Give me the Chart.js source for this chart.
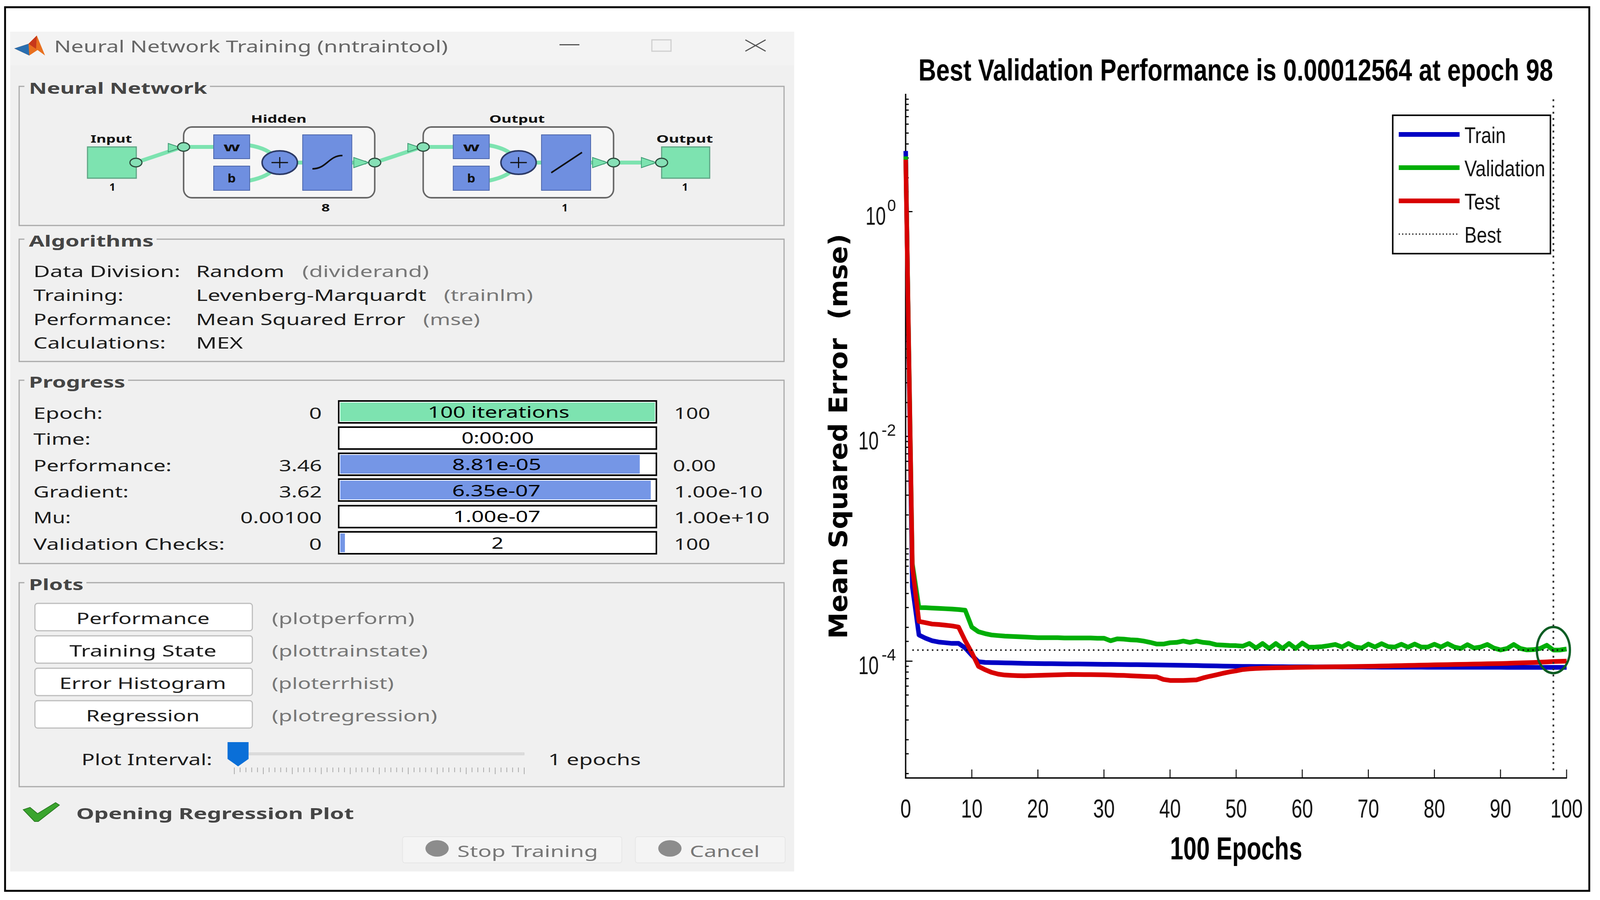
<!DOCTYPE html>
<html>
<head>
<meta charset="utf-8">
<title>Neural Network Training</title>
<script src="https://cdn.jsdelivr.net/npm/chart.js@4"></script>
<style>
html, body { margin: 0; padding: 0; background: #fff; overflow: hidden; }
#page { position: relative; width: 4261px; height: 2303px; overflow: hidden; background: #fff; transform-origin: 0 0; }
#frame { position: absolute; left: 11px; top: 16px; width: 4214px; height: 2256px; border: 5px solid #000; }
#gui { position: absolute; left: 0; top: 0; }
#perf { position: absolute; left: 2150px; top: 90px; }
.t { position: absolute; white-space: pre; transform-origin: 0 50%; font-family: "Noto Sans", sans-serif; }
</style>
</head>
<body>
<div id="page">
  <div id="frame"></div>
  <svg id="gui" width="4261" height="2303" xmlns="http://www.w3.org/2000/svg"></svg>
  <canvas id="perf" width="2070" height="2170"></canvas>
</div>
<script>
// performance curves, one value per epoch
const epochs = [0,1,2,3,4,5,6,7,8,9,10,11,12,13,14,15,16,17,18,19,20,21,22,23,24,25,26,27,28,29,30,31,32,33,34,35,36,37,38,39,40,41,42,43,44,45,46,47,48,49,50,51,52,53,54,55,56,57,58,59,60,61,62,63,64,65,66,67,68,69,70,71,72,73,74,75,76,77,78,79,80,81,82,83,84,85,86,87,88,89,90,91,92,93,94,95,96,97,98,99,100];
const train = [3.46,4.6e-4,1.71e-4,1.60e-4,1.52e-4,1.48e-4,1.46e-4,1.44e-4,1.44e-4,1.31e-4,
  1.13e-4,9.89e-5,9.76e-5,9.72e-5,9.69e-5,9.66e-5,9.63e-5,9.60e-5,9.57e-5,9.55e-5,
  9.53e-5,9.51e-5,9.50e-5,9.48e-5,9.47e-5,9.45e-5,9.44e-5,9.42e-5,9.41e-5,9.39e-5,
  9.38e-5,9.37e-5,9.35e-5,9.34e-5,9.32e-5,9.31e-5,9.29e-5,9.28e-5,9.26e-5,9.25e-5,
  9.23e-5,9.21e-5,9.19e-5,9.17e-5,9.15e-5,9.12e-5,9.10e-5,9.07e-5,9.04e-5,9.02e-5,
  9.00e-5,8.99e-5,8.98e-5,8.97e-5,8.96e-5,8.95e-5,8.94e-5,8.93e-5,8.92e-5,8.92e-5,
  8.91e-5,8.91e-5,8.90e-5,8.90e-5,8.89e-5,8.89e-5,8.88e-5,8.88e-5,8.87e-5,8.87e-5,
  8.86e-5,8.86e-5,8.85e-5,8.85e-5,8.85e-5,8.84e-5,8.84e-5,8.84e-5,8.84e-5,8.83e-5,
  8.83e-5,8.83e-5,8.83e-5,8.83e-5,8.82e-5,8.82e-5,8.82e-5,8.82e-5,8.82e-5,8.82e-5,
  8.82e-5,8.81e-5,8.81e-5,8.81e-5,8.81e-5,8.81e-5,8.81e-5,8.81e-5,8.81e-5,8.81e-5,8.81e-5];
const validation = [3.1,7.4e-4,3.00e-4,2.99e-4,2.97e-4,2.95e-4,2.93e-4,2.91e-4,2.88e-4,2.84e-4,
  2.01e-4,1.83e-4,1.76e-4,1.71e-4,1.69e-4,1.67e-4,1.66e-4,1.65e-4,1.64e-4,1.63e-4,
  1.62e-4,1.62e-4,1.62e-4,1.62e-4,1.61e-4,1.61e-4,1.61e-4,1.61e-4,1.61e-4,1.60e-4,
  1.60e-4,1.52e-4,1.58e-4,1.57e-4,1.55e-4,1.54e-4,1.51e-4,1.47e-4,1.42e-4,1.42e-4,
  1.46e-4,1.47e-4,1.51e-4,1.47e-4,1.51e-4,1.47e-4,1.45e-4,1.40e-4,1.39e-4,1.38e-4,
  1.375e-4,1.36e-4,1.438e-4,1.309e-4,1.438e-4,1.298e-4,1.438e-4,1.298e-4,1.438e-4,1.298e-4,
  1.45e-4,1.33e-4,1.336e-4,1.347e-4,1.375e-4,1.409e-4,1.336e-4,1.438e-4,1.336e-4,1.309e-4,
  1.42e-4,1.336e-4,1.432e-4,1.347e-4,1.336e-4,1.415e-4,1.33e-4,1.42e-4,1.336e-4,1.336e-4,
  1.415e-4,1.336e-4,1.432e-4,1.336e-4,1.298e-4,1.403e-4,1.309e-4,1.336e-4,1.409e-4,1.309e-4,
  1.259e-4,1.298e-4,1.409e-4,1.298e-4,1.26e-4,1.267e-4,1.298e-4,1.386e-4,1.2564e-4,1.258e-4,1.283e-4];
const test = [2.9,6.95e-4,2.26e-4,2.20e-4,2.14e-4,2.12e-4,2.09e-4,2.06e-4,2.01e-4,1.52e-4,
  1.19e-4,9.0e-5,8.4e-5,7.95e-5,7.67e-5,7.53e-5,7.47e-5,7.43e-5,7.41e-5,7.44e-5,
  7.47e-5,7.50e-5,7.53e-5,7.56e-5,7.59e-5,7.62e-5,7.61e-5,7.60e-5,7.59e-5,7.58e-5,
  7.57e-5,7.53e-5,7.49e-5,7.47e-5,7.42e-5,7.37e-5,7.33e-5,7.29e-5,7.25e-5,6.88e-5,
  6.74e-5,6.74e-5,6.74e-5,6.77e-5,6.82e-5,7.10e-5,7.34e-5,7.56e-5,7.80e-5,8.03e-5,
  8.20e-5,8.43e-5,8.54e-5,8.61e-5,8.66e-5,8.71e-5,8.73e-5,8.75e-5,8.77e-5,8.80e-5,
  8.82e-5,8.84e-5,8.86e-5,8.88e-5,8.89e-5,8.91e-5,8.93e-5,8.95e-5,8.96e-5,8.98e-5,
  9.00e-5,9.03e-5,9.05e-5,9.08e-5,9.11e-5,9.13e-5,9.16e-5,9.19e-5,9.22e-5,9.24e-5,
  9.27e-5,9.30e-5,9.32e-5,9.35e-5,9.37e-5,9.40e-5,9.43e-5,9.45e-5,9.48e-5,9.50e-5,
  9.53e-5,9.57e-5,9.61e-5,9.65e-5,9.69e-5,9.73e-5,9.80e-5,9.86e-5,9.93e-5,9.97e-5,1.001e-4];
const bestEpoch = 98;
const bestValue = 0.00012564;
const seriesNames = ['Train', 'Validation', 'Test', 'Best'];
const seriesColors = ['#0000c4', '#00ae06', '#d80000', '#000'];
const xTicks = [0, 10, 20, 30, 40, 50, 60, 70, 80, 90, 100];
const yLabelExponents = [0, -2, -4];
const yMin = 9.12e-6;
const yMax = 11;

// left window contents
const algoLabels = ['Data Division:', 'Training:', 'Performance:', 'Calculations:'];
const algoNames = ['Random', 'Levenberg-Marquardt', 'Mean Squared Error', 'MEX'];
const algoFuncs = ['(dividerand)', '(trainlm)', '(mse)', ''];
const progressLabels = ['Epoch:', 'Time:', 'Performance:', 'Gradient:', 'Mu:', 'Validation Checks:'];
const progressStart = ['0', '', '3.46', '3.62', '0.00100', '0'];
const progressNow = ['100 iterations', '0:00:00', '8.81e-05', '6.35e-07', '1.00e-07', '2'];
const progressEnd = ['100', '', '0.00', '1.00e-10', '1.00e+10', '100'];
const progressFill = [1, 0, 0.952, 0.987, 0, 0.015];
const plotButtons = ['Performance', 'Training State', 'Error Histogram', 'Regression'];
const plotFuncs = ['(plotperform)', '(plottrainstate)', '(ploterrhist)', '(plotregression)'];

const page = document.getElementById('page');
const gui = document.getElementById('gui');

// the browser may hand us a narrower window than asked for, keep the whole figure in it
page.style.transform = `scaleX(${window.innerWidth / 4261})`;

function el(name, attrs) {
  const e = document.createElementNS('http://www.w3.org/2000/svg', name);
  for (const k in attrs) e.setAttribute(k, attrs[k]);
  gui.appendChild(e);
  return e;
}
function rect(x1, y1, x2, y2, fill, stroke, sw, rx) {
  return el('rect', { x: x1, y: y1, width: x2 - x1, height: y2 - y1, fill: fill, stroke: stroke || 'none', 'stroke-width': sw || 0, rx: rx || 0 });
}
function wire(d) {
  el('path', { d: d, fill: 'none', stroke: '#7de3b0', 'stroke-width': 10 });
}
function node(x, y) {
  el('ellipse', { cx: x, cy: y, rx: 16, ry: 11, fill: '#86e0b6', stroke: '#2c4a3c', 'stroke-width': 3 });
}
function arrow(x, y, w, h) {
  el('path', { d: `M${x} ${y - h}L${x + w} ${y}L${x} ${y + h}Z`, fill: '#7de3b0', stroke: '#3f9a74', 'stroke-width': 2 });
}
// text squeezed or stretched to span x1..x2, vertically centred on yc
function txt(s, x1, x2, yc, size, color, weight) {
  const sp = document.createElement('span');
  sp.className = 't';
  sp.textContent = s;
  sp.style.fontSize = size + 'px';
  sp.style.lineHeight = size + 'px';
  sp.style.color = color || '#1c1c1c';
  sp.style.fontWeight = weight || 400;
  sp.style.left = x1 + 'px';
  sp.style.top = (yc - size / 2) + 'px';
  page.appendChild(sp);
  sp.style.transform = `scaleX(${(x2 - x1) / sp.offsetWidth})`;
  return sp;
}
function groupBox(x1, y1, x2, y2, label, labelEnd) {
  rect(x1, y1, x2, y2, 'none', '#a9a9a9', 3);
  rect(x1 + 14, y1 - 4, labelEnd + 8, y1 + 4, '#f0f0f0');
  txt(label, x1 + 26, labelEnd, y1 + 4, 40, '#454545', 700);
}

// window background and title bar
rect(27, 81, 2115, 2230, '#f0f0f0');
rect(27, 81, 2115, 167, '#f3f3f3');
el('path', { d: 'M38 124L76 112L98 91L120 142L100 128L78 142Z', fill: '#e8701f' });
el('path', { d: 'M38 124L76 112L78 142Z', fill: '#2a6fb0' });
el('path', { d: 'M76 112L98 91L96 125Z', fill: '#c8381a' });
txt('Neural Network Training (nntraintool)', 144, 1193, 118, 42, '#666');
rect(1490, 113, 1543, 116, '#555');
rect(1736, 102, 1787, 131, 'none', '#cfcfcf', 3);
el('path', { d: 'M1985 102L2039 131M2039 102L1985 131', stroke: '#555', 'stroke-width': 3 });

groupBox(51, 221, 2088, 577, 'Neural Network', 551);
groupBox(51, 612, 2088, 925, 'Algorithms', 409);
groupBox(51, 973, 2088, 1442, 'Progress', 333);
groupBox(51, 1491, 2088, 2013, 'Plots', 222);

// network diagram
rect(489, 325, 998, 506, '#f6f6f6', '#666', 4, 22);
rect(1127, 325, 1634, 506, '#f6f6f6', '#666', 4, 22);
wire('M362 416L480 378');
wire('M998 416L1118 378');
wire('M489 376H569M1127 376H1207');
wire('M665 372Q715 380 735 405M665 462Q715 452 735 428');
wire('M1303 372Q1353 380 1373 405M1303 462Q1353 452 1373 428');
wire('M790 416H806M1425 416H1442');
wire('M937 416H975M1573 416H1610M1634 416H1740');
arrow(448, 378, 34, 11);
arrow(1086, 378, 34, 11);
arrow(942, 416, 40, 13);
arrow(1578, 416, 40, 13);
arrow(1708, 416, 40, 13);
for (const x of [233, 1762]) {
  const w = x === 233 ? 130 : 128;
  rect(x, 376, x + w, 456, '#7de3b0', '#5fa585', 3);
}
for (const x of [569, 1207]) {
  rect(x, 345, x + 96, 406, '#6f8fe0', '#4a64a8', 2);
  rect(x, 425, x + 96, 487, '#6f8fe0', '#4a64a8', 2);
}
for (const x of [745, 1381]) {
  el('ellipse', { cx: x, cy: 416, rx: 47, ry: 30, fill: '#6f8fe0', stroke: '#2c3a66', 'stroke-width': 4 });
  el('path', { d: `M${x - 22} 416H${x + 22}M${x} 402V430`, stroke: '#111', 'stroke-width': 3 });
}
rect(806, 345, 937, 487, '#6f8fe0', '#4a64a8', 2);
rect(1442, 345, 1573, 487, '#6f8fe0', '#4a64a8', 2);
el('path', { d: 'M832 432C870 432 875 398 912 398', fill: 'none', stroke: '#111', 'stroke-width': 4 });
el('path', { d: 'M1468 442L1550 390', fill: 'none', stroke: '#111', 'stroke-width': 4 });
[[362, 416], [489, 376], [998, 416], [1127, 376], [1634, 416], [1762, 416]].forEach(p => node(p[0], p[1]));
txt('Input', 241, 351, 354, 27, '#111', 700);
txt('Hidden', 668, 817, 303, 27, '#111', 700);
txt('Output', 1303, 1451, 303, 27, '#111', 700);
txt('Output', 1748, 1899, 354, 27, '#111', 700);
txt('1', 291, 307, 477, 27, '#111', 700);
txt('1', 1816, 1832, 477, 27, '#111', 700);
txt('8', 856, 878, 530, 27, '#111', 700);
txt('1', 1496, 1512, 530, 27, '#111', 700);
txt('w', 595, 640, 376, 30, '#111', 700);
txt('b', 606, 628, 456, 30, '#111', 700);
txt('w', 1233, 1278, 376, 30, '#111', 700);
txt('b', 1244, 1266, 456, 30, '#111', 700);

// algorithms rows
const algoY = [694, 755, 817, 877];
const algoLabelEnd = [480, 329, 457, 441];
const algoNameEnd = [757, 1135, 1080, 647];
const algoFuncSpan = [[805, 1142], [1182, 1419], [1127, 1278]];
algoLabels.forEach((s, i) => {
  txt(s, 89, algoLabelEnd[i], algoY[i], 40);
  txt(algoNames[i], 522, algoNameEnd[i], algoY[i], 40);
  if (algoFuncs[i]) txt(algoFuncs[i], algoFuncSpan[i][0], algoFuncSpan[i][1], algoY[i], 40, '#777');
});

// progress rows
const rowY = [1057, 1123, 1191, 1258, 1324, 1392];
const barTop = [1024, 1091, 1158, 1224, 1292, 1359];
const labelEnd = [274, 241, 457, 343, 189, 598];
const startWidth = [34, 0, 114, 114, 217, 34];
const nowSpan = [[1139, 1516], [1229, 1422], [1204, 1442], [1204, 1440], [1207, 1440], [1309, 1341]];
const endSpan = [[1795, 1892], null, [1792, 1906], [1795, 2032], [1795, 2050], [1795, 1892]];
progressLabels.forEach((s, i) => {
  txt(s, 89, labelEnd[i], rowY[i], 40);
  if (progressStart[i]) txt(progressStart[i], 857 - startWidth[i], 857, rowY[i], 40);
  rect(902, barTop[i] + 2, 1748, barTop[i] + 58, '#fff', '#000', 4);
  if (progressFill[i] > 0) {
    const c = i === 0 ? '#7de3b0' : '#7596e6';
    rect(906, barTop[i] + 6, 906 + 838 * progressFill[i], barTop[i] + 54, c);
  }
  txt(progressNow[i], nowSpan[i][0], nowSpan[i][1], rowY[i] - 3, 40, '#000');
  if (progressEnd[i]) txt(progressEnd[i], endSpan[i][0], endSpan[i][1], rowY[i], 40);
});

// plot buttons
const btnTop = [1544, 1627, 1710, 1793];
const btnSpan = [[203, 558], [185, 576], [158, 603], [229, 532]];
const funcEnd = [1104, 1139, 1049, 1164];
plotButtons.forEach((s, i) => {
  rect(93, btnTop[i], 672, btnTop[i] + 70, '#fff', '#bdbdbd', 3, 7);
  txt(s, btnSpan[i][0], btnSpan[i][1], btnTop[i] + 38, 40);
  txt(plotFuncs[i], 724, funcEnd[i], btnTop[i] + 38, 40, '#777');
});

// plot interval slider
txt('Plot Interval:', 217, 565, 1943, 40);
rect(658, 1926, 1396, 1932, '#dcdcdc', '#cfcfcf', 1);
for (let i = 0; i <= 50; i++) {
  const x = 624 + i * 15.44;
  el('path', { d: `M${x} 1964V${i % 5 === 0 ? 1981 : 1976}`, stroke: '#a8a8a8', 'stroke-width': 2 });
}
el('path', { d: 'M606 1899H662V1942L634 1961L606 1942Z', fill: '#0a6fd8' });
txt('1 epochs', 1460, 1707, 1943, 40);

// status line and bottom buttons
el('path', { d: 'M62 2072L80 2066L100 2082L148 2054L158 2060L102 2102L92 2102Z', fill: '#3aa52e', stroke: '#2a7a22', 'stroke-width': 2 });
txt('Opening Regression Plot', 203, 942, 2081, 40, '#454545', 700);
rect(1072, 2141, 1656, 2208, '#f4f4f4', '#e6e6e6', 2, 6);
rect(1692, 2141, 2091, 2208, '#f4f4f4', '#e6e6e6', 2, 6);
el('ellipse', { cx: 1164, cy: 2171, rx: 31, ry: 21, fill: '#8c8c8c' });
el('ellipse', { cx: 1784, cy: 2171, rx: 31, ry: 21, fill: '#8c8c8c' });
txt('Stop Training', 1218, 1593, 2178, 40, '#777');
txt('Cancel', 1837, 2024, 2178, 40, '#777');

const sans = '"Liberation Sans", Arial, sans-serif';

// inward tick marks, the y ones are only long at the labelled decades
const insideTicks = {
  id: 'insideTicks',
  beforeDatasetsDraw(chart) {
    const c = chart.ctx, sx = chart.scales.x, sy = chart.scales.y;
    c.save();
    c.strokeStyle = '#000';
    c.lineWidth = 2.5;
    sx.ticks.forEach(t => {
      const x = sx.getPixelForValue(t.value);
      c.beginPath(); c.moveTo(x, sx.top); c.lineTo(x, sx.top - 22); c.stroke();
    });
    c.lineWidth = 3;
    sy.ticks.forEach(t => {
      const y = sy.getPixelForValue(t.value);
      const long = yLabelExponents.some(e => Math.abs(Math.log10(t.value) - e) < 1e-6);
      c.beginPath(); c.moveTo(sy.right, y); c.lineTo(sy.right + (long ? 18 : 8), y); c.stroke();
    });
    c.restore();
  }
};

// the narrow axis text is drawn with fillText's maxWidth squeeze
const axisText = {
  id: 'axisText',
  afterDraw(chart) {
    const c = chart.ctx, sx = chart.scales.x, sy = chart.scales.y;
    c.save();
    c.fillStyle = '#111';
    c.textAlign = 'right';
    c.textBaseline = 'alphabetic';
    yLabelExponents.forEach(e => {
      const y = sy.getPixelForValue(Math.pow(10, e));
      const w = e === 0 ? 23 : 42;
      c.font = '43px ' + sans;
      c.fillText(String(e), sy.right - 26, y - 2, w);
      c.font = '64px ' + sans;
      c.fillText('10', sy.right - 30 - w, y + 33, 54);
    });
    c.textAlign = 'center';
    c.font = '66px ' + sans;
    sx.ticks.forEach(t => {
      const s = String(t.value);
      c.fillText(s, sx.getPixelForValue(t.value), sx.top + 101, s.length * 28.7);
    });
    c.fillStyle = '#000';
    c.font = 'bold 82px ' + sans;
    c.fillText('100 Epochs', (sx.left + sx.right) / 2, sx.top + 208, 352);
    c.restore();
  }
};

// legend box and the ring round the best point
const legendBox = {
  id: 'legendBox',
  afterDraw(chart) {
    const c = chart.ctx, sx = chart.scales.x, sy = chart.scales.y;
    c.save();
    c.strokeStyle = '#0a5c22';
    c.lineWidth = 6;
    c.beginPath();
    c.ellipse(sx.getPixelForValue(bestEpoch), sy.getPixelForValue(bestValue), 44, 59, 0, 0, Math.PI * 2);
    c.stroke();

    const left = 1559, top = 205, rowStart = 49, rowGap = 85;
    const nameWidths = [110, 215, 94, 98];
    c.fillStyle = '#fff';
    c.fillRect(left, top, 420, 354);
    c.strokeStyle = '#000';
    c.lineWidth = 4;
    c.strokeRect(left, top, 420, 354);
    c.font = '58px ' + sans;
    c.textBaseline = 'middle';
    c.textAlign = 'left';
    seriesNames.forEach((n, i) => {
      const y = top + rowStart + i * rowGap;
      c.strokeStyle = seriesColors[i];
      c.lineWidth = i === 3 ? 3 : 12;
      c.setLineDash(i === 3 ? [3, 6] : []);
      c.beginPath(); c.moveTo(left + 16, y); c.lineTo(left + 178, y); c.stroke();
      c.fillStyle = '#111';
      c.fillText(n, left + 191, y + 6, nameWidths[i]);
    });
    c.restore();
  }
};

// the title block is squeezed to its box width, so inset the box
const titleWidth = {
  id: 'titleWidth',
  afterLayout(chart) {
    chart.titleBlock.left = 2446 - 2150;
    chart.titleBlock.right = 4136 - 2150;
  }
};

function curve(i, values) {
  return {
    label: seriesNames[i],
    data: values,
    borderColor: seriesColors[i],
    borderWidth: 12,
    borderJoinStyle: 'round',
    pointRadius: 0,
    tension: 0,
    clip: false,
    order: 5 - i
  };
}

new Chart(document.getElementById('perf'), {
  type: 'line',
  data: {
    labels: epochs,
    datasets: [
      curve(0, train),
      curve(1, validation),
      curve(2, test),
      {
        label: 'Best',
        data: [{ x: 1, y: bestValue }, { x: 100, y: bestValue }],
        borderColor: '#000', borderWidth: 3.5, borderDash: [4, 9], pointRadius: 0, order: 1
      },
      {
        label: 'Best epoch',
        data: [{ x: bestEpoch, y: 10 }, { x: bestEpoch, y: 1e-5 }],
        borderColor: '#333', borderWidth: 4.5, borderDash: [5, 11], pointRadius: 0, order: 1
      }
    ]
  },
  plugins: [titleWidth, insideTicks, axisText, legendBox],
  options: {
    responsive: false,
    animation: false,
    events: [],
    layout: { padding: { top: 0, right: 48, bottom: 0, left: 0 } },
    plugins: {
      legend: { display: false },
      tooltip: { enabled: false },
      title: {
        display: true,
        fullSize: false,
        text: 'Best Validation Performance is 0.00012564 at epoch 98',
        color: '#000',
        font: { family: sans, size: 78, weight: 'bold' },
        padding: { top: 48, bottom: 10.4 }
      }
    },
    scales: {
      x: {
        type: 'linear',
        min: 0,
        max: 100,
        afterFit: s => { s.height = 269; },
        afterBuildTicks: s => { s.ticks = xTicks.map(v => ({ value: v })); },
        grid: { drawOnChartArea: false, drawTicks: false },
        border: { color: '#000', width: 3.5 },
        ticks: { display: false, autoSkip: false }
      },
      y: {
        type: 'logarithmic',
        min: yMin,
        max: yMax,
        afterFit: s => { s.width = 262; },
        afterBuildTicks: s => { s.ticks = s.ticks.filter(t => t.value !== yMin && t.value !== yMax); },
        grid: { drawOnChartArea: false, drawTicks: false },
        border: { color: '#000', width: 3.5 },
        ticks: { display: false, autoSkip: false },
        title: {
          display: true,
          text: 'Mean Squared Error  (mse)',
          color: '#000',
          font: { family: '"DejaVu Sans", sans-serif', size: 68, weight: 'bold' },
          padding: { top: 48, bottom: 0 }
        }
      }
    }
  }
});
</script>
</body>
</html>
